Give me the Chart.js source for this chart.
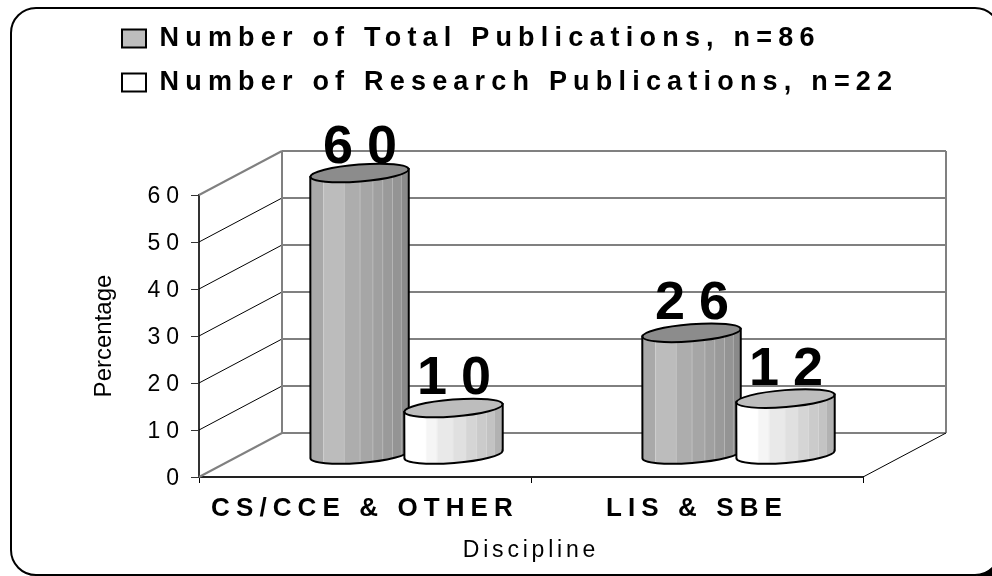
<!DOCTYPE html>
<html>
<head>
<meta charset="utf-8">
<title>Publications by discipline</title>
<script src="https://cdn.jsdelivr.net/npm/chart.js@4/dist/chart.umd.min.js"></script>
<style>
  html, body { margin: 0; padding: 0; background: #fff; }
  #wrap { width: 992px; height: 576px; position: relative; overflow: hidden; }
</style>
</head>
<body>
<div id="wrap"><canvas id="myChart" width="992" height="576"></canvas></div>
<script>
const categories = ['CS/CCE & OTHER', 'LIS & SBE'];
const totalPublications = [60, 26];
const researchPublications = [10, 12];
const yTicks = [0, 10, 20, 30, 40, 50, 60];
const seriesNames = ['Number of Total Publications, n=86', 'Number of Research Publications, n=22'];

const FONT = '"Liberation Sans", Arial, sans-serif';

// depth of the fake 3d box, in px
const depthX = 83;
const depthY = -44;

// back wall lines come out black or grey in the original, bottom to top
const backLineColors = ['#808080', '#000', '#000', '#808080', '#808080', '#000', '#808080'];

// cylinder facets: left edge as a fraction of the width, then the shade
const facets = [
    [[0, '#a9a9a9'], [0.13, '#bcbcbc'], [0.34, '#adadad'], [0.5, '#a6a6a6'], [0.63, '#a0a0a0'], [0.73, '#9a9a9a'], [0.83, '#949494'], [0.92, '#8a8a8a']],
    [[0, '#ffffff'], [0.22, '#f5f5f5'], [0.33, '#e9e9e9'], [0.49, '#e0e0e0'], [0.62, '#d5d5d5'], [0.73, '#cbcbcb'], [0.83, '#c3c3c3'], [0.91, '#b2b2b2']]
];
const topColors = ['#8c8c8c', '#bdbdbd'];

function drawCylinder(ctx, bar, seriesIndex) {
    const left = bar.x - bar.width / 2 + depthX / 2;
    const w = bar.width;
    const cx = left + w / 2;
    const topY = bar.y + depthY / 2;
    const baseY = bar.base + depthY / 2;
    const rx = w / 2;
    const ry = 8.5;
    const tilt = -0.08;
    const lift = rx * Math.sin(tilt);

    ctx.save();
    ctx.beginPath();
    ctx.moveTo(left, topY - lift);
    ctx.lineTo(left + w, topY + lift);
    ctx.lineTo(left + w, baseY + lift);
    ctx.ellipse(cx, baseY, rx, ry, tilt, 0, Math.PI);
    ctx.closePath();
    ctx.save();
    ctx.clip();
    facets[seriesIndex].forEach(([f, color], k) => {
        ctx.fillStyle = color;
        ctx.fillRect(left + f * w, topY - 20, w, baseY - topY + 50);
        if (k > 0) {
            // faint seam between two facets
            ctx.fillStyle = 'rgba(255,255,255,0.3)';
            ctx.fillRect(left + f * w, topY - 20, 1, baseY - topY + 50);
        }
    });
    ctx.restore();
    ctx.strokeStyle = '#000';
    ctx.lineWidth = 2;
    ctx.stroke();

    ctx.beginPath();
    ctx.ellipse(cx, topY, rx, ry, tilt, 0, Math.PI * 2);
    ctx.fillStyle = topColors[seriesIndex];
    ctx.fill();
    ctx.stroke();
    ctx.restore();
}

// chart.js has no letter spacing option, so wrap the scale's text drawing
function wrapScale(scale, tickSpacing, titleSpacing) {
    if (scale.spacingDone) {
        return;
    }
    const labels = scale.drawLabels;
    const title = scale.drawTitle;
    scale.drawLabels = function (area) {
        const ctx = this.ctx;
        ctx.save();
        ctx.letterSpacing = tickSpacing + 'px';
        labels.call(this, area);
        ctx.restore();
    };
    scale.drawTitle = function () {
        const ctx = this.ctx;
        ctx.save();
        ctx.letterSpacing = titleSpacing + 'px';
        title.call(this);
        ctx.restore();
    };
    scale.spacingDone = true;
}

const boxPlugin = {
    id: 'box3d',
    beforeDraw(chart) {
        const ctx = chart.ctx;
        // the frame runs off the right and bottom of the picture
        ctx.save();
        ctx.beginPath();
        ctx.roundRect(11, 8, 989, 567, 25);
        ctx.strokeStyle = '#000';
        ctx.lineWidth = 2;
        ctx.stroke();
        ctx.beginPath();
        ctx.moveTo(975, 576);
        ctx.quadraticCurveTo(986, 573, 992, 568);
        ctx.lineTo(992, 576);
        ctx.closePath();
        ctx.fillStyle = '#000';
        ctx.fill();
        ctx.restore();

        wrapScale(chart.scales.x, 6.1, 3.8);
        wrapScale(chart.scales.y, 6, 0);
        // legend text is the only thing left using this one
        ctx.letterSpacing = '6.2px';
    },
    afterDraw(chart) {
        chart.ctx.letterSpacing = '0px';
    },
    afterLayout(chart) {
        // legend is clipped to its own box, so the box has to cover the long line
        chart.legend.left = 105;
        chart.legend.top = 8;
        chart.legend.right = 992;
        chart.legend.bottom = 130;
    },
    beforeDatasetDraw() {
        return false;
    },
    beforeDatasetsDraw(chart) {
        const ctx = chart.ctx;
        const { left, right, top } = chart.chartArea;
        const y = chart.scales.y;
        const y0 = y.getPixelForValue(0);
        const yMax = y.getPixelForValue(yTicks[yTicks.length - 1]);

        ctx.save();
        yTicks.forEach((t, i) => {
            const py = y.getPixelForValue(t);
            const grey = i === 0 || i === yTicks.length - 1;
            ctx.beginPath();
            ctx.moveTo(left, py);
            ctx.lineTo(left + depthX, py + depthY);
            ctx.strokeStyle = grey ? '#808080' : '#000';
            ctx.lineWidth = grey ? 2 : 1;
            ctx.stroke();
            ctx.beginPath();
            ctx.moveTo(left + depthX, py + depthY);
            ctx.lineTo(right + depthX, py + depthY);
            ctx.strokeStyle = backLineColors[i];
            ctx.lineWidth = backLineColors[i] === '#000' ? 1 : 2;
            ctx.stroke();
        });
        ctx.beginPath();
        ctx.moveTo(left + depthX, yMax + depthY);
        ctx.lineTo(left + depthX, y0 + depthY);
        ctx.moveTo(right + depthX, yMax + depthY);
        ctx.lineTo(right + depthX, y0 + depthY);
        ctx.strokeStyle = '#808080';
        ctx.lineWidth = 2;
        ctx.stroke();
        ctx.beginPath();
        ctx.moveTo(right, y0);
        ctx.lineTo(right + depthX, y0 + depthY);
        ctx.strokeStyle = '#000';
        ctx.lineWidth = 1;
        ctx.stroke();
        ctx.restore();

        categories.forEach((c, j) => {
            chart.data.datasets.forEach((ds, i) => {
                drawCylinder(ctx, chart.getDatasetMeta(i).data[j], i);
            });
        });

        // value labels, the tallest one sits lower in the original
        ctx.save();
        ctx.font = 'bold 54px ' + FONT;
        ctx.letterSpacing = '14px';
        ctx.fillStyle = '#000';
        ctx.textAlign = 'center';
        ctx.textBaseline = 'alphabetic';
        chart.data.datasets.forEach((ds, i) => {
            chart.getDatasetMeta(i).data.forEach((bar, j) => {
                const ly = Math.max(bar.y + depthY / 2 - 14, top - 32);
                ctx.fillText(String(ds.data[j]), bar.x + depthX / 2 + 7.5, ly);
            });
        });
        ctx.restore();
    }
};

const data = {
    labels: categories,
    datasets: [
        {
            label: seriesNames[0],
            data: totalPublications,
            backgroundColor: '#bdbdbd',
            borderColor: '#000',
            borderWidth: 2,
            categoryPercentage: 0.566,
            barPercentage: 1.048
        },
        {
            label: seriesNames[1],
            data: researchPublications,
            backgroundColor: '#ffffff',
            borderColor: '#000',
            borderWidth: 2,
            categoryPercentage: 0.566,
            barPercentage: 1.048
        }
    ]
};

const config = {
    type: 'bar',
    data: data,
    plugins: [boxPlugin],
    options: {
        responsive: false,
        animation: false,
        layout: {
            padding: { left: 85, top: 195, right: 129, bottom: 0 }
        },
        plugins: {
            tooltip: { enabled: false },
            legend: {
                position: 'chartArea',
                align: 'start',
                onClick: null,
                labels: {
                    boxWidth: 24,
                    boxHeight: 18,
                    padding: 17,
                    color: '#000',
                    font: { family: FONT, size: 27, weight: 'bold' }
                }
            }
        },
        scales: {
            x: {
                afterFit(s) { s.height = 99; },
                border: { color: '#222', width: 2 },
                grid: { drawOnChartArea: false, color: '#000', tickLength: 6 },
                ticks: {
                    color: '#000',
                    padding: 10,
                    maxRotation: 0,
                    autoSkip: false,
                    font: { family: FONT, size: 26, weight: 'bold' }
                },
                title: {
                    display: true,
                    text: 'Discipline',
                    color: '#000',
                    padding: { bottom: 12 },
                    font: { family: FONT, size: 23 }
                }
            },
            y: {
                min: 0,
                max: 60,
                afterFit(s) { s.width = 114; },
                afterBuildTicks(s) { s.ticks = yTicks.map(v => ({ value: v })); },
                border: { color: '#333', width: 2 },
                grid: { drawOnChartArea: false, color: '#333', tickLength: 8 },
                ticks: {
                    color: '#000',
                    padding: 6,
                    labelOffset: 2,
                    font: { family: FONT, size: 23 }
                },
                title: {
                    display: true,
                    text: 'Percentage',
                    color: '#000',
                    padding: { top: 5, bottom: 0 },
                    font: { family: FONT, size: 24 }
                }
            }
        }
    }
};

new Chart(document.getElementById('myChart'), config);
</script>
</body>
</html>
